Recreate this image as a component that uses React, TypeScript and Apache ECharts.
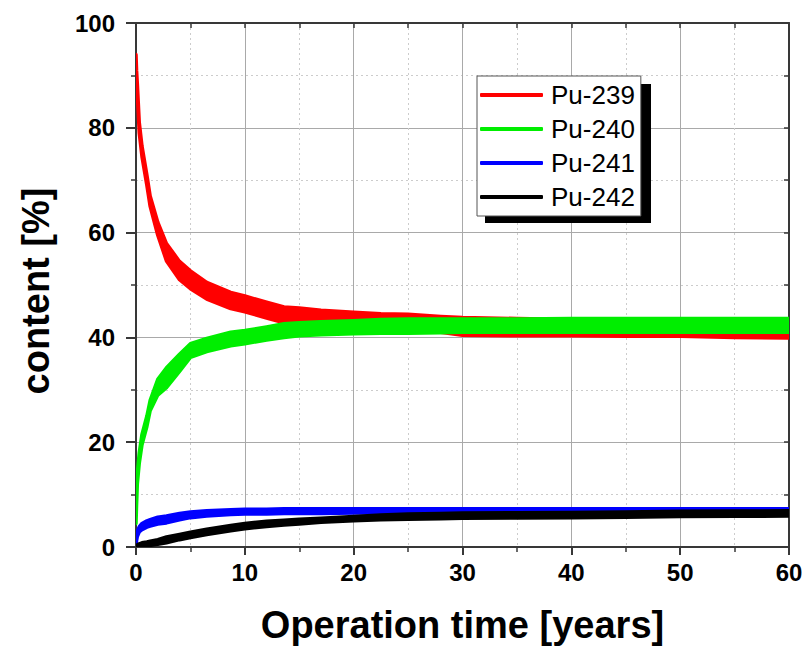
import React, { useEffect, useRef } from "react";
import * as echarts from "echarts";

// Operation time [years]
const X = [0, 0.05, 0.12, 0.3, 0.55, 1.0, 1.3, 2.0, 2.8, 4, 5, 6.5, 8.7, 10, 12, 13.6, 15, 17, 20, 22.5, 25, 28, 30, 35, 40, 45, 50, 55, 60];

// content [%] — each isotope drawn as an oscillation band (upper / lower envelope)
const PU239_UPPER = [94, 91, 88.5, 81, 76.5, 71, 67, 62, 57.9, 54.5, 52.7, 50.5, 48.6, 47.9, 46.7, 45.8, 45.6, 45.2, 44.8, 44.5, 44.4, 44.0, 43.8, 43.6, 43.4, 43.2, 43.0, 42.9, 42.8];
const PU239_LOWER = [92, 89, 86.5, 79, 74.5, 69, 65, 59.5, 54.6, 51, 49.3, 47.3, 45.5, 44.9, 43.7, 42.8, 42.6, 42.8, 43.0, 42.6, 41.8, 41.0, 40.4, 40.3, 40.3, 40.2, 40.2, 40.0, 39.9];

const PU240_UPPER = [6, 10, 14, 18, 21.5, 25, 28, 32, 34.2, 36.8, 38.8, 39.8, 41.0, 41.3, 42.0, 42.6, 42.8, 43.0, 43.2, 43.4, 43.5, 43.5, 43.5, 43.5, 43.6, 43.6, 43.6, 43.6, 43.6];
const PU240_LOWER = [4.5, 8, 12, 16, 19.5, 23, 26, 29, 30.4, 33.5, 36.2, 37.3, 38.4, 38.8, 39.5, 40.0, 40.3, 40.5, 40.7, 40.8, 40.8, 40.9, 41.0, 41.0, 41.0, 41.0, 41.0, 41.0, 41.0];

const PU241_UPPER = [1.2, 2.2, 3.0, 3.9, 4.5, 5.0, 5.2, 5.7, 5.9, 6.4, 6.7, 6.9, 7.1, 7.2, 7.2, 7.3, 7.3, 7.3, 7.3, 7.3, 7.3, 7.3, 7.3, 7.3, 7.3, 7.3, 7.3, 7.3, 7.3];
const PU241_LOWER = [0.2, 1.2, 2.0, 2.9, 3.3, 3.8, 4.0, 4.4, 4.6, 5.2, 5.6, 5.9, 6.2, 6.3, 6.3, 6.4, 6.4, 6.4, 6.5, 6.5, 6.5, 6.5, 6.5, 6.5, 6.5, 6.5, 6.5, 6.5, 6.5];

const PU242_UPPER = [0.2, 0.3, 0.4, 0.6, 0.8, 0.95, 1.1, 1.4, 1.9, 2.4, 2.8, 3.4, 4.1, 4.5, 4.9, 5.1, 5.3, 5.5, 5.8, 6.1, 6.3, 6.4, 6.5, 6.55, 6.6, 6.7, 6.8, 6.85, 6.9];
const PU242_LOWER = [0, 0, 0.05, 0.1, 0.15, 0.2, 0.3, 0.5, 0.8, 1.4, 1.8, 2.4, 3.1, 3.5, 3.9, 4.2, 4.4, 4.7, 5.0, 5.2, 5.3, 5.4, 5.5, 5.55, 5.6, 5.7, 5.8, 5.85, 5.9];

const SERIES_NAMES = ["Pu-239", "Pu-240", "Pu-241", "Pu-242"];
const SERIES_COLORS = ["#ff0000", "#00ee00", "#0000ff", "#000000"];
const UPPERS = [PU239_UPPER, PU240_UPPER, PU241_UPPER, PU242_UPPER];
const LOWERS = [PU239_LOWER, PU240_LOWER, PU241_LOWER, PU242_LOWER];

const X_TITLE = "Operation time [years]";
const Y_TITLE = "content [%]";

const FONT = "'Liberation Sans', Arial, Helvetica, sans-serif";
const AXIS_COLOR = "#383838";

export default function App() {
  const ref = useRef<HTMLDivElement>(null);

  useEffect(() => {
    document.body.style.margin = "0";
    if (!ref.current) return;
    const chart = echarts.init(ref.current, undefined, { renderer: "svg" });

    const bandSeries = SERIES_NAMES.map((name, k) => {
      const upper = UPPERS[k];
      const lower = LOWERS[k];
      const color = SERIES_COLORS[k];
      return {
        name,
        type: "custom",
        xAxisIndex: 0,
        yAxisIndex: 0,
        clip: true,
        z: 2 + k,
        itemStyle: { color },
        encode: { x: 0, y: [1, 2] },
        data: X.map((x, i) => [x, lower[i], upper[i]]),
        renderItem: (params: any, api: any) => {
          if (params.dataIndex !== 0) return null;
          const top = X.map((x, i) => api.coord([x, upper[i]]));
          const bot = X.map((x, i) => api.coord([x, lower[i]])).reverse();
          return {
            type: "polygon",
            shape: { points: top.concat(bot) },
            style: { fill: color, stroke: color, lineWidth: 3.5, lineJoin: "round" },
          };
        },
      };
    });

    const baseAxisLine = { show: true, onZero: false, lineStyle: { color: AXIS_COLOR, width: 2 } };

    chart.setOption({
      animation: false,
      backgroundColor: "#ffffff",
      grid: { left: 136, top: 23, right: 17, bottom: 104, containLabel: false },
      legend: {
        orient: "vertical",
        left: 477,
        top: 76,
        padding: [6, 6, 6, 3],
        itemGap: 8,
        itemWidth: 63,
        itemHeight: 4,
        icon: "roundRect",
        backgroundColor: "#ffffff",
        borderColor: "#555555",
        borderWidth: 1,
        borderRadius: 0,
        selectedMode: false,
        z: 10,
        textStyle: { fontSize: 26, fontFamily: FONT, color: "#000", lineHeight: 26, padding: [0, 0, 0, 3] },
        data: SERIES_NAMES.map((n, k) => ({ name: n, itemStyle: { color: SERIES_COLORS[k] } })),
      },
      graphic: [
        {
          type: "rect",
          left: 485,
          top: 84,
          z: 5,
          shape: { width: 166, height: 139 },
          style: { fill: "#000" },
        },
      ],
      xAxis: [
        {
          type: "value",
          position: "bottom",
          min: 0,
          max: 60,
          interval: 10,
          axisLine: baseAxisLine,
          axisTick: { show: true, inside: false, length: 8, lineStyle: { color: AXIS_COLOR, width: 2 } },
          minorTick: { show: true, splitNumber: 2, length: 5, lineStyle: { color: AXIS_COLOR, width: 1.5 } },
          splitLine: { show: true, lineStyle: { color: "#a9a9a9", width: 1 } },
          minorSplitLine: { show: true, lineStyle: { color: "#cccccc", width: 1, type: [2, 3] } },
          axisLabel: { show: true, margin: 13, fontSize: 24, fontWeight: "bold", fontFamily: FONT, color: "#000" },
          name: X_TITLE,
          nameLocation: "middle",
          nameGap: 59,
          nameTextStyle: { fontSize: 38, fontWeight: "bold", fontFamily: FONT, color: "#000" },
        },
        {
          type: "value",
          position: "top",
          min: 0,
          max: 60,
          interval: 5,
          axisLine: baseAxisLine,
          axisTick: { show: true, inside: true, length: 5, lineStyle: { color: AXIS_COLOR, width: 1.5 } },
          axisLabel: { show: false },
          splitLine: { show: false },
        },
      ],
      yAxis: [
        {
          type: "value",
          position: "left",
          min: 0,
          max: 100,
          interval: 20,
          axisLine: baseAxisLine,
          axisTick: { show: true, inside: false, length: 10, lineStyle: { color: AXIS_COLOR, width: 2 } },
          minorTick: { show: true, splitNumber: 2, length: 5, lineStyle: { color: AXIS_COLOR, width: 1.5 } },
          splitLine: { show: true, lineStyle: { color: "#a9a9a9", width: 1 } },
          minorSplitLine: { show: true, lineStyle: { color: "#cccccc", width: 1, type: [2, 3] } },
          axisLabel: { show: true, margin: 21, fontSize: 24, fontWeight: "bold", fontFamily: FONT, color: "#000" },
          name: Y_TITLE,
          nameLocation: "middle",
          nameGap: 81,
          nameTextStyle: { fontSize: 38, fontWeight: "bold", fontFamily: FONT, color: "#000", padding: [0, 12, 0, 0] },
        },
        {
          type: "value",
          position: "right",
          min: 0,
          max: 100,
          interval: 10,
          axisLine: baseAxisLine,
          axisTick: { show: true, inside: true, length: 5, lineStyle: { color: AXIS_COLOR, width: 1.5 } },
          axisLabel: { show: false },
          splitLine: { show: false },
        },
      ],
      series: bandSeries,
    });

    return () => {
      chart.dispose();
    };
  }, []);

  return <div ref={ref} style={{ width: 806, height: 651 }} />;
}
